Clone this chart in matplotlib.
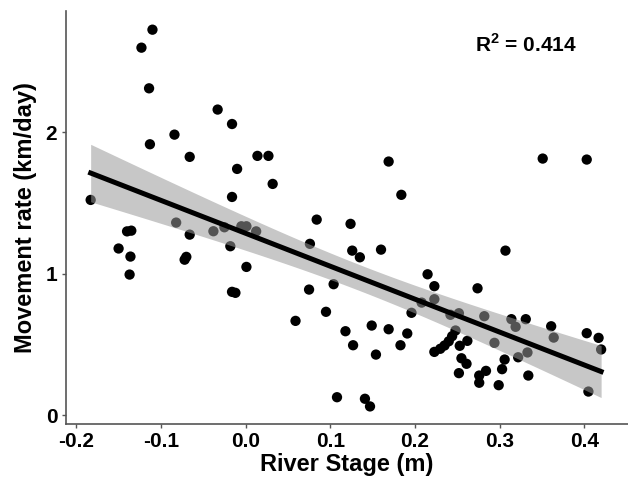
import matplotlib.pyplot as plt
import numpy as np

# river stage (m) vs movement rate (km/day)
stage = [-0.110, -0.123, -0.114, -0.033, -0.016, -0.084, -0.113, -0.066, 0.014, 0.027,
         0.032, -0.010, -0.183, -0.016, 0.169, 0.184,
         -0.082, -0.066, -0.038, -0.025, -0.005, 0.001, 0.0125, -0.140, -0.135, -0.150,
         -0.136, -0.137, -0.072, -0.070, -0.018, 0.001, -0.016, -0.012,
         0.084, 0.124, 0.076, 0.126, 0.135, 0.160, 0.075, 0.104, 0.215, 0.223,
         0.208, 0.223, 0.196, 0.059, 0.095, 0.118, 0.149, 0.169, 0.191, 0.127,
         0.154, 0.183, 0.223, 0.108, 0.141, 0.147,
         0.351, 0.403, 0.307, 0.274, 0.242, 0.252, 0.282, 0.314, 0.319, 0.331,
         0.361, 0.364, 0.403, 0.417, 0.420, 0.248, 0.244, 0.240, 0.235, 0.230,
         0.262, 0.253, 0.294, 0.255, 0.261, 0.252, 0.284, 0.276, 0.276, 0.306,
         0.303, 0.299, 0.322, 0.333, 0.334, 0.405]
rate = [2.724, 2.597, 2.310, 2.160, 2.058, 1.983, 1.915, 1.826, 1.833, 1.833,
        1.635, 1.741, 1.522, 1.543, 1.793, 1.558,
        1.362, 1.277, 1.301, 1.329, 1.336, 1.336, 1.300, 1.300, 1.305, 1.179,
        1.122, 0.995, 1.100, 1.120, 1.195, 1.049, 0.873, 0.866,
        1.383, 1.353, 1.212, 1.164, 1.117, 1.171, 0.889, 0.927, 0.997, 0.913,
        0.797, 0.821, 0.725, 0.668, 0.732, 0.595, 0.635, 0.609, 0.579, 0.496,
        0.430, 0.496, 0.449, 0.129, 0.118, 0.064,
        1.814, 1.807, 1.164, 0.898, 0.711, 0.722, 0.701, 0.680, 0.626, 0.680,
        0.630, 0.550, 0.581, 0.548, 0.466, 0.600, 0.560, 0.524, 0.494, 0.471,
        0.527, 0.492, 0.513, 0.404, 0.365, 0.299, 0.315, 0.282, 0.231, 0.395,
        0.327, 0.214, 0.411, 0.445, 0.282, 0.169]

x_ticks = [-0.2, -0.1, 0.0, 0.1, 0.2, 0.3, 0.4]
x_ticklabels = ['-0.2', '-0.1', '0.0', '0.1', '0.2', '0.3', '0.4']
y_ticks = [0, 1, 2]
r2_label = 'R$^\\mathbf{2}$ = 0.414'

x = np.array(stage)
y = np.array(rate)

# linear fit + 95% confidence band (like geom_smooth(method="lm"))
slope, intercept = np.polyfit(x, y, 1)
n = len(x)
resid = y - (slope * x + intercept)
s = np.sqrt(np.sum(resid ** 2) / (n - 2))
t_crit = 1.986
xs = np.linspace(x.min(), x.max(), 100)
ys = slope * xs + intercept
se = s * np.sqrt(1 / n + (xs - x.mean()) ** 2 / np.sum((x - x.mean()) ** 2))

plt.rcParams['font.family'] = ['Liberation Sans', 'DejaVu Sans']
plt.rcParams['mathtext.fontset'] = 'custom'
plt.rcParams['mathtext.rm'] = 'Liberation Sans:bold'
plt.rcParams['mathtext.bf'] = 'Liberation Sans:bold'

fig = plt.figure(figsize=(6.28, 4.84), dpi=100)
ax = fig.add_axes([0.1046, 0.124, 0.8964, 0.853])

ax.scatter(x, y, s=55, color='black', edgecolors='none', zorder=2)
ax.fill_between(xs, ys - t_crit * se, ys + t_crit * se, color='#999999', alpha=0.55,
                linewidth=0, zorder=3)
ax.plot(xs, ys, color='black', linewidth=3.6, zorder=4)

ax.set_xlim(-0.2125, 0.4525)
ax.set_ylim(-0.06, 2.855)
ax.set_xticks(x_ticks)
ax.set_xticklabels(x_ticklabels)
ax.set_yticks(y_ticks)

for side in ['top', 'right']:
    ax.spines[side].set_visible(False)
for side in ['left', 'bottom']:
    ax.spines[side].set_color('#555555')
    ax.spines[side].set_linewidth(1.2)
ax.tick_params(colors='#555555', length=3, width=1, labelsize=15, pad=3)
for lab in ax.get_xticklabels() + ax.get_yticklabels():
    lab.set_color('black')
    lab.set_fontweight('bold')

ax.set_xlabel('River Stage (m)', fontsize=17, fontweight='bold', labelpad=1)
ax.set_ylabel('Movement rate (km/day)', fontsize=17, fontweight='bold', labelpad=6)

ax.text(0.331, 2.62, r2_label, fontsize=15, fontweight='bold', ha='center', va='center')

fig.savefig('out.png', dpi=100)
